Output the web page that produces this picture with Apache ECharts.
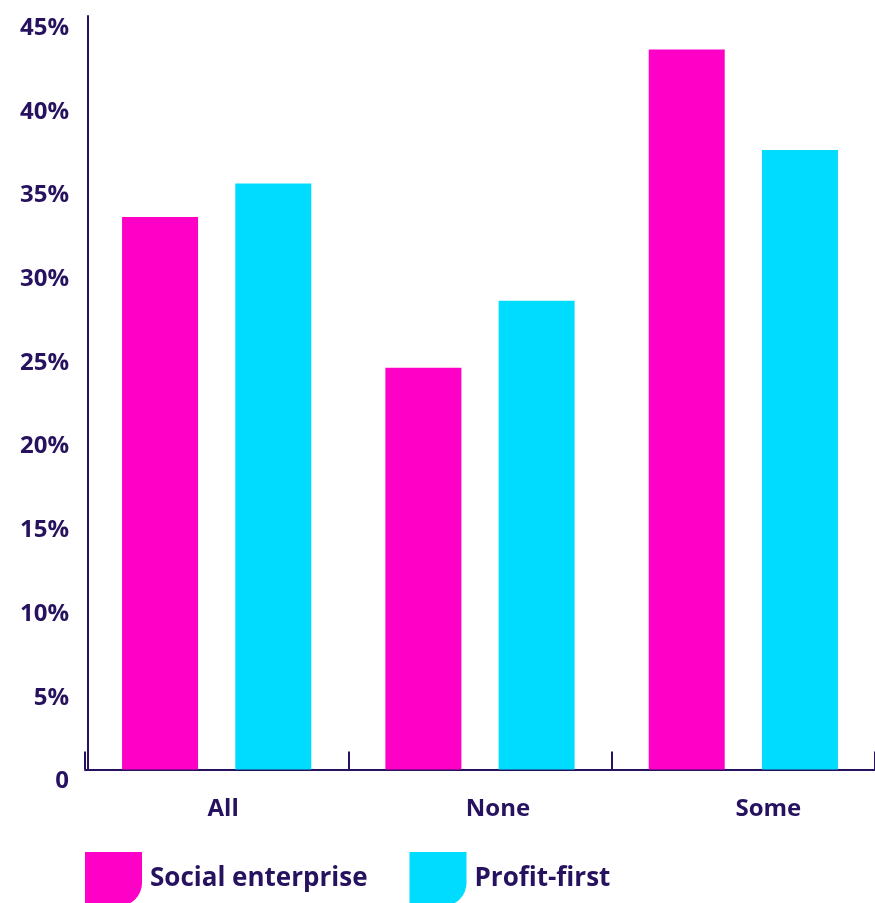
<!DOCTYPE html>
<html>
<head>
<meta charset="utf-8">
<script src="https://cdn.jsdelivr.net/npm/echarts@6/dist/echarts.min.js"></script>
<style>
html,body{margin:0;padding:0;background:#fff;}
#chart{width:875px;height:903px;}
</style>
</head>
<body>
<div id="chart"></div>
<script>
const categories = ['All', 'None', 'Some'];
const socialEnterprise = [33, 24, 43];
const profitFirst = [35, 28, 37];
const seriesNames = ['Social enterprise', 'Profit-first'];

const TEXT = '#26125e';
const FONT = 'Open Sans';
const labelShift = {All: 13, None: 36, Some: 50};

const chart = echarts.init(document.getElementById('chart'));
const rich = {};
categories.forEach(c => {
  rich['c' + c] = {padding: [0, 0, 0, labelShift[c]], fontSize: 24, fontWeight: 'bold', color: TEXT, fontFamily: FONT};
});

chart.setOption({
  animation: false,
  grid: {left: 85, width: 794, top: 16, bottom: 133.5, containLabel: false},
  legend: {
    left: 85, top: 852, padding: 0,
    itemWidth: 57, itemHeight: 54, itemGap: 42,
    icon: 'path://M0,0 H57 V31 A23,23 0 0 1 34,54 H0 Z',
    textStyle: {fontSize: 26, fontWeight: 'bold', color: TEXT, fontFamily: FONT, padding: [0, 0, 0, 3]},
    data: seriesNames
  },
  xAxis: {
    type: 'category',
    data: categories,
    axisLine: {lineStyle: {color: TEXT, width: 2}},
    axisTick: {show: true, inside: true, length: 18, lineStyle: {color: TEXT, width: 2}},
    axisLabel: {
      margin: 28,
      formatter: v => '{c' + v + '|' + v + '}',
      rich: rich
    }
  },
  yAxis: {
    type: 'value',
    min: 0, max: 45, interval: 5,
    offset: -3,
    splitLine: {show: false},
    axisLine: {show: true, lineStyle: {color: TEXT, width: 2}},
    axisTick: {show: false},
    axisLabel: {
      margin: 19,
      verticalAlign: 'top',
      lineHeight: 24,
      fontSize: 24, fontWeight: 'bold', color: TEXT, fontFamily: FONT,
      formatter: v => v === 0 ? '0' : v + '%'
    }
  },
  series: [
    {name: seriesNames[0], type: 'bar', data: socialEnterprise, barWidth: 76, barGap: '49%', itemStyle: {color: '#ff00c6'}},
    {name: seriesNames[1], type: 'bar', data: profitFirst, barWidth: 76, barGap: '49%', itemStyle: {color: '#00dcff'}}
  ]
});
</script>
</body>
</html>
